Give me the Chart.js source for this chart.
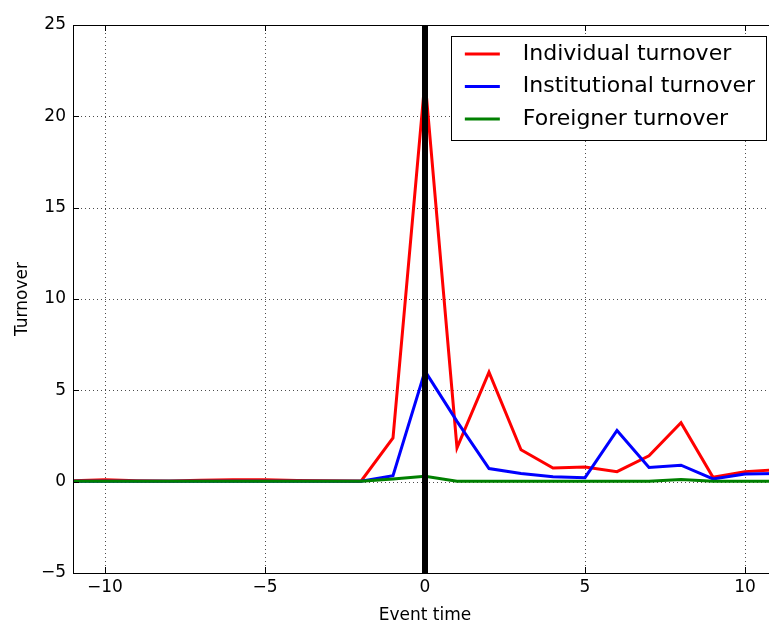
<!DOCTYPE html>
<html><head><meta charset="utf-8">
<script src="https://cdn.jsdelivr.net/npm/chart.js@4/dist/chart.umd.min.js"></script>
<style>html,body{margin:0;padding:0;overflow:hidden;background:#fff}canvas{display:block}</style>
</head><body>
<canvas id="c" width="800" height="627"></canvas>
<script>
// ---- data ----
const eventTime = [-11,-10,-9,-8,-7,-6,-5,-4,-3,-2,-1,0,1,2,3,4,5,6,7,8,9,10,11];
const individualTurnover =    [0.05,0.1,0.05,0.03,0.08,0.1,0.1,0.06,0.05,0.03,2.4,22.0,1.85,6.0,1.75,0.75,0.8,0.55,1.42,3.23,0.24,0.55,0.65];
const institutionalTurnover = [0.02,0.02,0.02,0.02,0.02,0.02,0.02,0.02,0.02,0.02,0.33,6.05,3.3,0.72,0.45,0.27,0.22,2.8,0.78,0.9,0.15,0.42,0.45];
const foreignerTurnover =     [0.02,0.02,0.02,0.02,0.02,0.02,0.02,0.02,0.02,0.02,0.15,0.3,0.02,0.02,0.02,0.02,0.02,0.02,0.02,0.12,0.02,0.02,0.02];
const seriesLabels = ['Individual turnover','Institutional turnover','Foreigner turnover'];
const xTickValues = [-10,-5,0,5,10];
const yTickValues = [-5,0,5,10,15,20,25];
const eventMarker = [0];

const FONT = "'DejaVu Sans', sans-serif";
const toPts = arr => eventTime.map((t,i)=>({x:t,y:arr[i]}));

const decor = {
  id:'decor',
  beforeDatasetsDraw(chart){
    const {ctx, chartArea:a, scales:{x,y}} = chart;
    ctx.save();
    ctx.strokeStyle='rgba(0,0,0,0.7)'; ctx.lineWidth=1; ctx.setLineDash([1,3]);
    xTickValues.forEach(v=>{const p=Math.round(x.getPixelForValue(v))+0.5;ctx.beginPath();ctx.moveTo(p,a.top);ctx.lineTo(p,a.bottom);ctx.stroke();});
    yTickValues.forEach(v=>{const p=Math.round(y.getPixelForValue(v))+0.5;ctx.beginPath();ctx.moveTo(a.left,p);ctx.lineTo(a.right,p);ctx.stroke();});
    ctx.restore();
  },
  afterDatasetsDraw(chart){
    const {ctx, chartArea:a, scales:{x,y}} = chart;
    ctx.save();
    // event marker
    ctx.strokeStyle='#000'; ctx.lineWidth=6;
    eventMarker.forEach(v=>{const p=x.getPixelForValue(v);ctx.beginPath();ctx.moveTo(p,a.top);ctx.lineTo(p,a.bottom);ctx.stroke();});
    // frame
    ctx.lineWidth=1;
    ctx.strokeRect(Math.round(a.left)+0.5,Math.round(a.top)+0.5,Math.round(a.right-a.left),Math.round(a.bottom-a.top));
    // inward ticks
    const tl=6;
    xTickValues.forEach(v=>{const p=Math.round(x.getPixelForValue(v))+0.5;ctx.beginPath();ctx.moveTo(p,a.bottom);ctx.lineTo(p,a.bottom-tl);ctx.moveTo(p,a.top);ctx.lineTo(p,a.top+tl);ctx.stroke();});
    yTickValues.forEach(v=>{const p=Math.round(y.getPixelForValue(v))+0.5;ctx.beginPath();ctx.moveTo(a.left,p);ctx.lineTo(a.left+tl,p);ctx.moveTo(a.right,p);ctx.lineTo(a.right-tl,p);ctx.stroke();});
    // legend
    ctx.font = "22px " + FONT;
    const ds = chart.data.datasets;
    const maxW = Math.max(...ds.map(d=>ctx.measureText(d.label).width));
    const right = a.right - 11, top = a.top + 11;
    const w = 72 + maxW + 11, h = 104;
    const left = right - w;
    ctx.fillStyle='#fff'; ctx.fillRect(left,top,w,h);
    ctx.strokeStyle='#000'; ctx.lineWidth=1;
    ctx.strokeRect(Math.round(left)+0.5,Math.round(top)+0.5,Math.round(w),h);
    ds.forEach((d,i)=>{
      const cy = top + 18 + i*32.5;
      ctx.strokeStyle=d.borderColor; ctx.lineWidth=3;
      ctx.beginPath(); ctx.moveTo(left+14,cy); ctx.lineTo(left+49,cy); ctx.stroke();
      ctx.fillStyle='#000'; ctx.textBaseline='middle'; ctx.textAlign='left';
      ctx.fillText(d.label,left+72,cy);
    });
    ctx.restore();
  }
};

const tickFont = {family:FONT,size:17};
new Chart(document.getElementById('c'),{
  type:'line',
  data:{datasets:[
    {label:seriesLabels[0],data:toPts(individualTurnover),borderColor:'#ff0000',borderWidth:3,pointRadius:0,order:3,tension:0},
    {label:seriesLabels[1],data:toPts(institutionalTurnover),borderColor:'#0000ff',borderWidth:3,pointRadius:0,order:2,tension:0},
    {label:seriesLabels[2],data:toPts(foreignerTurnover),borderColor:'#008000',borderWidth:3,pointRadius:0,order:1,tension:0}
  ]},
  options:{
    responsive:false,animation:false,devicePixelRatio:1,
    layout:{padding:{top:25,left:0,right:23,bottom:0}},
    plugins:{legend:{display:false},tooltip:{enabled:false}},
    scales:{
      x:{type:'linear',min:-11,max:11,
        afterBuildTicks:s=>{s.ticks=xTickValues.map(v=>({value:v}));},
        afterFit:s=>{s.height=54;},
        grid:{display:false,drawTicks:false},border:{display:false},
        ticks:{font:tickFont,color:'#000',padding:4,maxRotation:0,autoSkip:false,callback:v=>String(v).replace('-','\u2212')},
        title:{display:true,text:'Event time',font:tickFont,color:'#000',padding:{top:0,bottom:1}}
      },
      y:{type:'linear',min:-5,max:25,
        afterBuildTicks:s=>{s.ticks=yTickValues.map(v=>({value:v}));},
        afterFit:s=>{s.width=73;},
        grid:{display:false,drawTicks:false},border:{display:false},
        ticks:{font:tickFont,color:'#000',padding:7,autoSkip:false,callback:v=>String(v).replace('-','\u2212')},
        title:{display:true,text:'Turnover',font:tickFont,color:'#000',padding:{top:12,bottom:0}}
      }
    }
  },
  plugins:[decor]
});
</script>
</body></html>
